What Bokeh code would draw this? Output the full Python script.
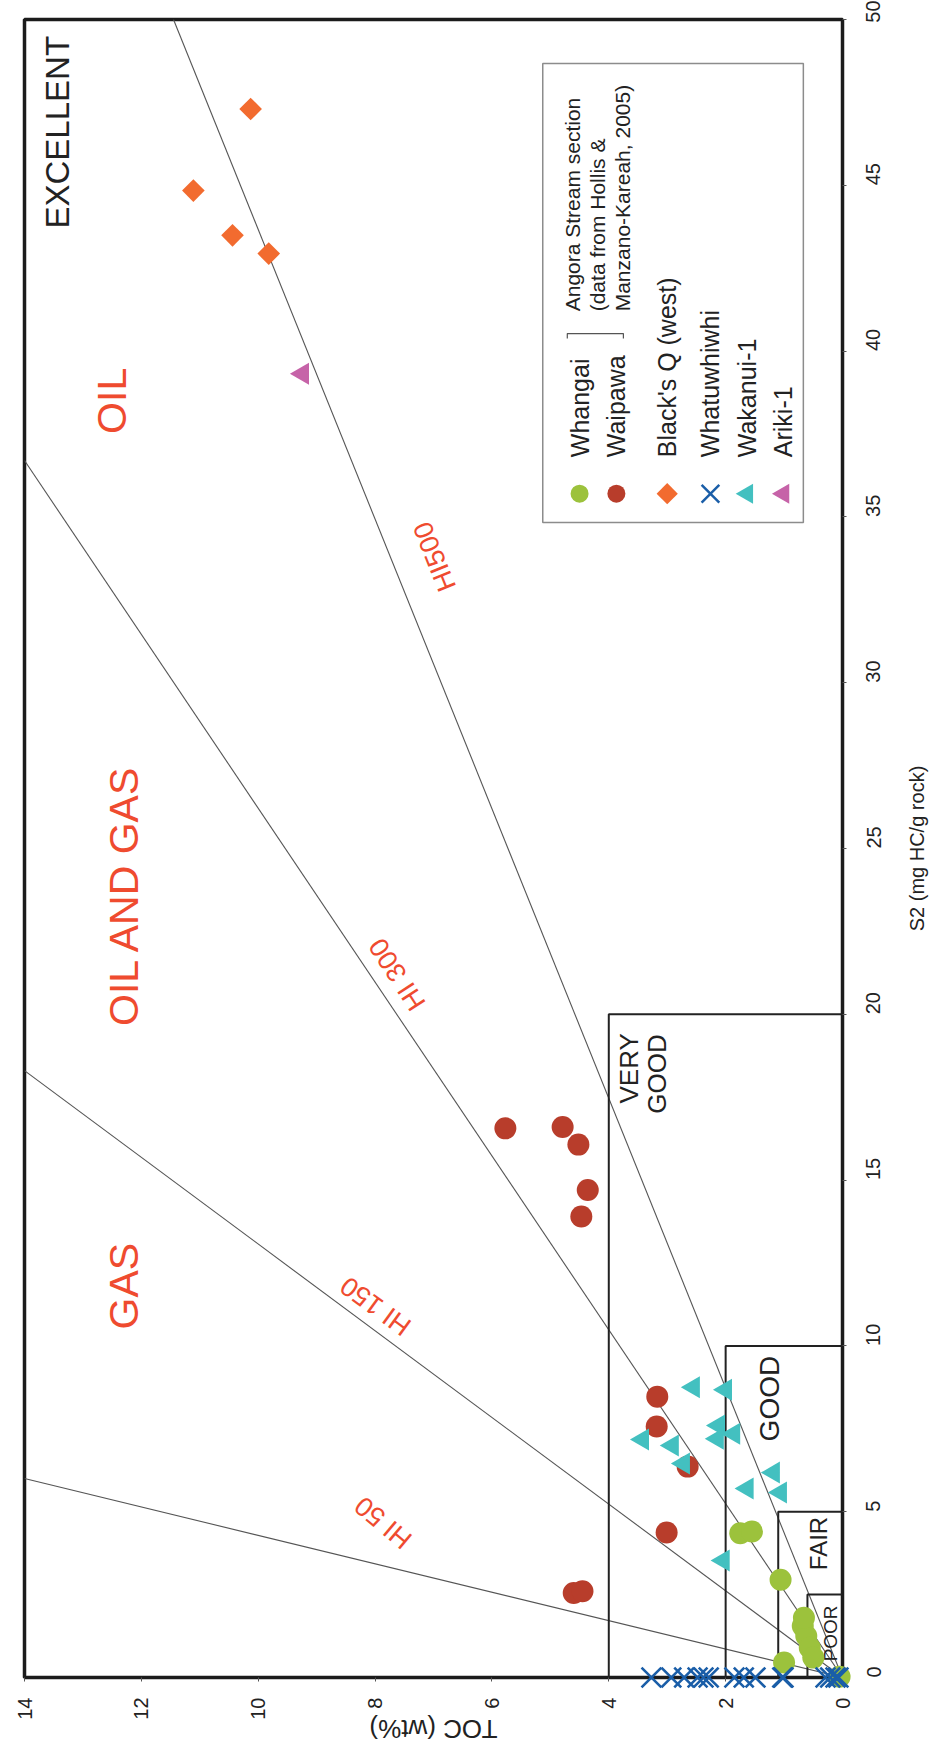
import math
from bokeh.plotting import figure
from bokeh.models import Range1d, FixedTicker
from bokeh.core.properties import value
from bokeh.embed import file_html
from bokeh.resources import INLINE

FONT = "Liberation Sans"
RED_TXT = "#EF4B2F"

# ---------------- data ----------------
toc_ticks = [0, 2, 4, 6, 8, 10, 12, 14]
s2_ticks = [0, 5, 10, 15, 20, 25, 30, 35, 40, 45, 50]

whangai_toc = [1.75, 1.55, 1.06, 1.00, 0.68, 0.62, 0.56, 0.50, 0.66, 0.05]
whangai_s2 = [4.35, 4.40, 2.95, 0.45, 1.55, 1.25, 0.90, 0.60, 1.80, 0.02]

waipawa_toc = [5.77, 4.79, 4.52, 4.36, 4.47, 3.17, 3.18, 2.65, 3.01, 4.60, 4.45]
waipawa_s2 = [16.56, 16.60, 16.07, 14.70, 13.90, 8.47, 7.57, 6.36, 4.37, 2.55, 2.60]

blacks_toc = [10.13, 11.11, 10.44, 9.82]
blacks_s2 = [47.3, 44.84, 43.49, 42.94]

whatu_toc = [3.27, 2.93, 2.71, 2.48, 2.38, 2.29, 1.85, 1.69, 1.49, 1.03, 1.01, 0.29, 0.21, 0.12, 0.07]
whatu_s2 = [0.0] * 15

wakanui_toc = [2.55, 2.00, 2.12, 1.86, 2.14, 3.42, 2.91, 2.72, 1.18, 1.06, 1.63, 2.04]
wakanui_s2 = [8.75, 8.68, 7.60, 7.35, 7.20, 7.18, 7.00, 6.45, 6.18, 5.58, 5.70, 3.53]

ariki_toc = [9.24]
ariki_s2 = [39.32]

# HI reference lines (drawn from origin to frame edge)
hi_names = ["HI 50", "HI 150", "HI 300", "HI500"]
hi_end_toc = [14.0, 14.0, 14.0, 11.45]
hi_end_s2 = [6.0, 18.3, 36.7, 50.0]
hi_label_toc = [7.86, 7.99, 7.62, 6.98]
hi_label_s2 = [4.67, 11.2, 21.2, 33.8]
hi_label_angle_deg = [140, 144, 123, 112]

# source rock quality boxes (TOC max, S2 max)
box_toc = [0.6, 1.1, 2.0, 4.0]
box_s2 = [2.5, 5.0, 10.0, 20.0]

# ---------------- figure ----------------
p = figure(frame_width=818, frame_height=1658,
           x_range=Range1d(14, 0), y_range=Range1d(0, 50),
           x_axis_location="below", y_axis_location="right",
           output_backend="svg", toolbar_location=None,
           min_border_left=24, min_border_top=19,
           min_border_right=88, min_border_bottom=75)
p.background_fill_color = "white"
p.border_fill_color = "white"
p.grid.visible = False
p.outline_line_color = "#1b1b1b"
p.outline_line_width = 3.5

for ax in (p.xaxis[0], p.yaxis[0]):
    ax.axis_line_color = None
    ax.major_tick_line_color = "#555555"
    ax.major_tick_in = 0
    ax.major_tick_out = 4
    ax.minor_tick_line_color = None
    ax.major_label_text_font = FONT
    ax.major_label_text_font_size = "20px"
    ax.major_label_text_color = "#222222"
    ax.major_label_orientation = math.pi / 2

p.xaxis[0].ticker = FixedTicker(ticks=toc_ticks)
p.yaxis[0].ticker = FixedTicker(ticks=s2_ticks)
p.xaxis[0].major_label_standoff = 16
p.yaxis[0].major_label_standoff = 27

# axis titles drawn as text outside the frame (overlay level => not clipped)
p.text(x=[7.0], y=[-1.55], text=["TOC (wt%)"], angle=math.pi,
       text_font=value(FONT), text_font_size="26px", text_color="#222222",
       text_align="center", text_baseline="middle", level="overlay")
p.text(x=[-1.28], y=[25.0], text=["S2 (mg HC/g rock)"], angle=math.pi / 2,
       text_font=value(FONT), text_font_size="20px", text_color="#222222",
       text_align="center", text_baseline="middle", level="overlay")

# HI lines
for i in range(len(hi_names)):
    p.line([0, hi_end_toc[i]], [0, hi_end_s2[i]], line_color="#555555", line_width=1.1)

# quality boxes
for i in range(len(box_toc)):
    p.line([box_toc[i], box_toc[i], 0], [0, box_s2[i], box_s2[i]],
           line_color="#222222", line_width=2)

# HI labels
p.text(x=hi_label_toc, y=hi_label_s2, text=hi_names,
       angle=[math.radians(a) for a in hi_label_angle_deg],
       text_font=value(FONT), text_font_size="27px", text_color=RED_TXT,
       text_align="center", text_baseline="middle")

# region labels
region_names = ["GAS", "OIL AND GAS", "OIL"]
region_toc = [12.3, 12.3, 12.5]
region_s2 = [11.8, 23.6, 38.5]
p.text(x=region_toc, y=region_s2, text=region_names, angle=math.pi / 2,
       text_font=value(FONT), text_font_size="41px", text_color=RED_TXT,
       text_align="center", text_baseline="middle")

# quality labels
q_names = ["EXCELLENT", "VERY", "GOOD", "GOOD", "FAIR", "POOR"]
q_toc = [13.43, 3.66, 3.17, 1.25, 0.41, 0.20]
q_s2 = [46.6, 18.37, 18.2, 8.41, 4.04, 1.33]
q_size = ["33px", "26px", "26px", "28px", "24px", "19px"]
p.text(x=q_toc, y=q_s2, text=q_names, angle=math.pi / 2,
       text_font=value(FONT), text_font_size=q_size, text_color="#222222",
       text_align="center", text_baseline="middle")

# data points (overlay level so markers on the axis are not clipped)
p.scatter(whangai_toc, whangai_s2, marker="circle", size=22, fill_color="#9CC23C", line_color=None, level="overlay")
p.scatter(waipawa_toc, waipawa_s2, marker="circle", size=22, fill_color="#B83D2B", line_color=None, level="overlay")
p.scatter(blacks_toc, blacks_s2, marker="square", angle=math.pi / 4, size=16, fill_color="#F26B2F", line_color=None, level="overlay")
p.scatter(whatu_toc, whatu_s2, marker="x", size=28, line_color="#1A5EA8", line_width=2.6, level="overlay")
p.scatter(wakanui_toc, wakanui_s2, marker="triangle", angle=math.pi / 2, size=22, fill_color="#43C0C0", line_color=None, level="overlay")
p.scatter(ariki_toc, ariki_s2, marker="triangle", angle=math.pi / 2, size=22, fill_color="#C663A8", line_color=None, level="overlay")

# ---------------- legend (drawn in data space) ----------------
leg_names = ["Whangai", "Waipawa", "Black's Q (west)", "Whatuwhiwhi", "Wakanui-1", "Ariki-1"]
leg_toc = [4.50, 3.87, 3.00, 2.26, 1.63, 1.01]
leg_marker_s2 = 35.7
leg_text_s2 = 36.8
p.quad(left=[5.13], right=[0.67], bottom=[34.83], top=[48.67],
       fill_color="white", line_color="#8c8c8c", line_width=1.5)
p.scatter([leg_toc[0]], [leg_marker_s2], marker="circle", size=18, fill_color="#9CC23C", line_color=None)
p.scatter([leg_toc[1]], [leg_marker_s2], marker="circle", size=18, fill_color="#B83D2B", line_color=None)
p.scatter([leg_toc[2]], [leg_marker_s2], marker="square", angle=math.pi / 4, size=15, fill_color="#F26B2F", line_color=None)
p.scatter([leg_toc[3]], [leg_marker_s2], marker="x", size=25, line_color="#1A5EA8", line_width=2.5)
p.scatter([leg_toc[4]], [leg_marker_s2], marker="triangle", angle=math.pi / 2, size=20, fill_color="#43C0C0", line_color=None)
p.scatter([leg_toc[5]], [leg_marker_s2], marker="triangle", angle=math.pi / 2, size=20, fill_color="#C663A8", line_color=None)
p.text(x=leg_toc, y=[leg_text_s2] * len(leg_toc), text=leg_names, angle=math.pi / 2,
       text_font=value(FONT), text_font_size="25px", text_color="#222222",
       text_align="left", text_baseline="middle")

src_lines = ["Angora Stream section", "(data from Hollis &", "Manzano-Kareah, 2005)"]
src_toc = [4.62, 4.19, 3.77]
p.text(x=src_toc, y=[41.2] * 3, text=src_lines, angle=math.pi / 2,
       text_font=value(FONT), text_font_size="21px", text_color="#222222",
       text_align="left", text_baseline="middle")
# bracket joining Whangai and Waipawa
p.line([4.71, 4.71, 3.75, 3.75], [40.38, 40.53, 40.53, 40.38], line_color="#555555", line_width=1.2)

open("out.html", "w").write(file_html(p, INLINE))
